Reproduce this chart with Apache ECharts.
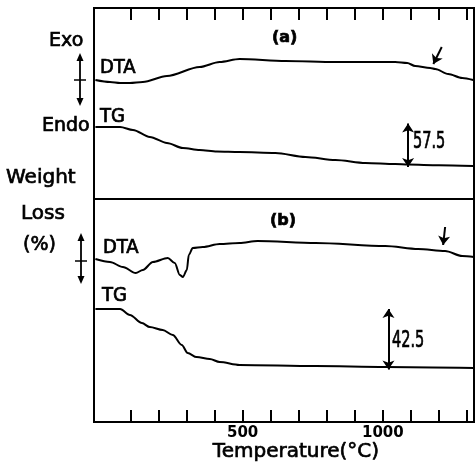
<!DOCTYPE html>
<html>
<head>
<meta charset="utf-8">
<script src="https://cdn.jsdelivr.net/npm/echarts@6/dist/echarts.min.js"></script>
<style>html,body{margin:0;padding:0;background:#fff}#c{width:476px;height:469px}</style>
</head>
<body>
<div id="c"></div>
<script>
// ---- data (temperature in °C) ----
const xTicks = [100,200,300,400,500,600,700,800,900,1000,1100,1200,1300];
const xLabels = [500, 1000];
// (a) DTA signal, arbitrary units (exo up)
const dtaA = [[-25,0],[27,-0.2],[63,-0.3],[98,-0.3],[144,-0.2],[230,0.4],[347,1.3],[418,1.8],[489,2.1],[653,1.9],[831,1.8],[1044,1.8],[1087,1.7],[1115,1.4],[1169,1.2],[1187,1.1],[1233,0.6],[1283,0.2],[1322,0.0]];
// (a) TG weight loss, %
const tgA = [[-25,0],[63,0],[109,4.4],[169,14.7],[230,23.6],[287,31.0],[347,33.9],[408,36.1],[489,36.9],[617,38.3],[724,44.2],[831,48.7],[938,53.1],[1044,54.6],[1091,55.5],[1200,56.3],[1322,57.5]];
// (b) DTA signal, arbitrary units
const dtaB = [[-25,0],[27,-0.3],[73,-0.8],[119,-1.4],[144,-1.1],[180,-0.3],[233,0.1],[258,-0.4],[276,-1.6],[287,-1.8],[301,-1.1],[308,0.4],[322,1.1],[358,1.2],[418,1.5],[489,1.6],[553,1.8],[760,1.6],[1009,1.3],[1126,1.0],[1222,0.8],[1283,0.3],[1325,0.2]];
// (b) TG weight loss, %
const tgB = [[-25,0],[63,0],[98,4.3],[141,10.1],[169,13.0],[215,15.1],[251,18.7],[283,25.9],[304,31.7],[336,34.6],[383,36.0],[418,38.2],[489,40.3],[760,41.1],[1009,41.8],[1325,42.5]];
const lossA = 57.5, lossB = 42.5;
const lossAt = [1090, 1020];       // temperature where loss arrows are drawn
const peakMarkA = [[1210,3.3],[1180,1.6]];
const peakMarkB = [[1222,3.2],[1215,1.4]];

const FONT = 'DejaVu Sans';
const COND = 'DejaVu Sans Condensed';
const black = '#000';

const chart = echarts.init(document.getElementById('c'), null, {renderer:'canvas'});

function xAx(gridIndex, pos, showLabels){
  return {
    type:'value', gridIndex, position:pos, min:-30, max:1325,
    axisLine:{show:true, onZero:false, lineStyle:{color:black, width:2}},
    axisTick:{show:true, inside:true, length:12, customValues:xTicks, lineStyle:{color:black, width:2}},
    axisLabel:{show:showLabels, customValues:xLabels, margin:4, color:black, fontFamily:FONT, fontWeight:'bold', fontSize:15,
      formatter:(v)=>String(v)},
    splitLine:{show:false}
  };
}
function yAx(gridIndex, min, max, inverse){
  return {type:'value', gridIndex, min, max, inverse:!!inverse, show:false, splitLine:{show:false}};
}
const lineCommon = {type:'line', symbol:'none', smooth:0.3, smoothMonotone:'x', animation:false, silent:true,
  lineStyle:{color:black, width:2}};
function arrowLine(pts, both){
  return {silent:true, animation:false, symbol: both ? ['arrow','arrow'] : ['none','arrow'], symbolSize:9,
    label:{show:false}, lineStyle:{type:'solid', color:black, width:2},
    data:[[{coord:pts[0]},{coord:pts[1]}]]};
}

function txt(text, x, y, size, family, opts){
  opts = opts || {};
  return Object.assign({type:'text', x, y, silent:true,
    style:Object.assign({text, fill:black, fontSize:size, fontFamily:family, fontWeight:opts.weight||'normal',
      stroke:black, lineWidth:0.7,
      textAlign:'left', textVerticalAlign:'middle'}, opts.style)}, opts.el);
}
function dblArrow(x, y1, y2, yc){
  return {type:'group', silent:true, children:[
    {type:'line', shape:{x1:x, y1:y1+4, x2:x, y2:y2-4}, style:{stroke:black, lineWidth:1.8}},
    {type:'polygon', shape:{points:[[x,y1],[x-3.5,y1+8],[x+3.5,y1+8]]}, style:{fill:black}},
    {type:'polygon', shape:{points:[[x,y2],[x-3.5,y2-8],[x+3.5,y2-8]]}, style:{fill:black}},
    {type:'line', shape:{x1:x-6, y1:yc, x2:x+6, y2:yc}, style:{stroke:black, lineWidth:1.5}}
  ]};
}

chart.setOption({
  animation:false,
  backgroundColor:'#fff',
  grid:[
    {left:94, right:2, top:8, height:191, show:true, borderColor:black, borderWidth:2},
    {left:94, right:2, top:199, bottom:47, show:true, borderColor:black, borderWidth:2}
  ],
  xAxis:[xAx(0,'top',false), xAx(1,'bottom',true)],
  yAxis:[yAx(0,-11.9,7.2), yAx(0,-175.5,106.2,true), yAx(1,-16.3,6.0), yAx(1,-79.3,81.4,true)],
  series:[
    Object.assign({}, lineCommon, {name:'DTA (a)', xAxisIndex:0, yAxisIndex:0, data:dtaA, markLine:arrowLine(peakMarkA,false)}),
    Object.assign({}, lineCommon, {name:'TG (a)', xAxisIndex:0, yAxisIndex:1, data:tgA, markLine:arrowLine([[lossAt[0],-5],[lossAt[0],lossA+1.5]],true)}),
    Object.assign({}, lineCommon, {name:'DTA (b)', xAxisIndex:1, yAxisIndex:2, data:dtaB, markLine:arrowLine(peakMarkB,false)}),
    Object.assign({}, lineCommon, {name:'TG (b)', xAxisIndex:1, yAxisIndex:3, data:tgB, markLine:arrowLine([[lossAt[1],0],[lossAt[1],lossB+1]],true)})
  ],
  graphic:[
    txt('Exo', 49, 41, 19, FONT),
    txt('Endo', 42, 126, 19, FONT),
    txt('Weight', 6, 178, 20, FONT),
    txt('Loss', 21, 214, 20, FONT),
    txt('(%)', 23, 245, 19, FONT),
    txt('DTA', 100, 68, 20, COND),
    txt('TG', 100, 117, 20, COND),
    txt('DTA', 103, 248, 20, COND),
    txt('TG', 102, 296, 20, COND),
    txt('(a)', 272, 38, 16, FONT, {weight:'bold'}),
    txt('(b)', 270, 221, 16, FONT, {weight:'bold'}),
    txt('57.5', 413, 142, 23, COND, {el:{scaleX:0.7}}),
    txt('42.5', 392, 341, 23, COND, {el:{scaleX:0.7}}),
    txt('Temperature(°C)', 296, 452, 20, FONT, {style:{textAlign:'center'}}),
    dblArrow(80, 53, 106, 80),
    dblArrow(81, 233, 284, 261)
  ]
});
</script>
</body>
</html>
